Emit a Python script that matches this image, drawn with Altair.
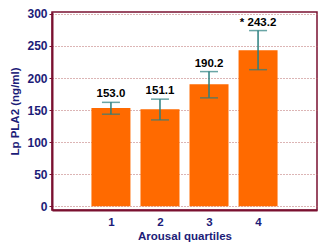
import altair as alt
import pandas as pd

quartiles = [1, 2, 3, 4]
means = [153.0, 151.1, 190.2, 243.2]
lower = [143.5, 134.6, 169.0, 213.0]
upper = [162.0, 167.0, 210.0, 274.0]
labels = ["153.0", "151.1", "190.2", "* 243.2"]
yticks = [0, 50, 100, 150, 200, 250, 300]

df = pd.DataFrame({"q": quartiles, "mean": means, "lo": lower, "hi": upper, "label": labels})

NAVY = "#1c1c78"
MAROON = "#7a1030"
TEAL = "#2a7f7f"
FONT = "Liberation Sans"

xscale = alt.Scale(domain=[-0.1, 5.1], nice=False, zero=False)
yscale = alt.Scale(domain=[-6, 303], nice=False, zero=False)

xaxis = alt.Axis(values=quartiles, title="Arousal quartiles", grid=False, ticks=False,
                 labelFont=FONT, labelFontSize=11.5, labelFontWeight="bold", labelColor=NAVY,
                 titleFont=FONT, titleFontSize=11.5, titleFontWeight="bold", titleColor=NAVY,
                 labelPadding=6, titlePadding=3, domainColor=MAROON, domainWidth=2,
                 format="d")
yaxis = alt.Axis(values=yticks, title="Lp PLA2 (ng/ml)",
                 grid=True, gridColor="#b86a6a", gridDash=[1, 2], gridWidth=1,
                 tickSize=3, tickColor=MAROON, labelOverlap=False,
                 labelFont=FONT, labelFontSize=12, labelFontWeight="bold", labelColor=NAVY,
                 titleFont=FONT, titleFontSize=11.5, titleFontWeight="bold", titleColor=NAVY,
                 labelPadding=2, titlePadding=6, domainColor=MAROON, domainWidth=2)

def X():
    return alt.X("q:Q", scale=xscale, axis=xaxis)

def Y(field):
    return alt.Y(field, type="quantitative", scale=yscale, axis=yaxis)

bars = alt.Chart(df).mark_bar(color="#ff6a00", size=39).encode(
    x=X(), y=Y("mean"), y2=alt.datum(0))

rules = alt.Chart(df).mark_rule(color=TEAL, strokeWidth=1.5).encode(
    x=X(), y=Y("lo"), y2="hi:Q")
cap_lo = alt.Chart(df).mark_tick(color=TEAL, orient="horizontal", size=18, thickness=1.5).encode(
    x=X(), y=Y("lo"))
cap_hi = alt.Chart(df).mark_tick(color=TEAL, orient="horizontal", size=18, thickness=1.5).encode(
    x=X(), y=Y("hi"))
text = alt.Chart(df).mark_text(font=FONT, fontSize=11.5, fontWeight="bold", color="black",
                               baseline="bottom", dy=-3).encode(
    x=X(), y=Y("hi"), text="label:N")

chart = alt.layer(bars, rules, cap_lo, cap_hi, text).properties(
    width=265, height=198,
    autosize=alt.AutoSizeParams(type="none"),
    padding={"left": 44, "top": 4, "right": 9, "bottom": 33},
    background="white",
).configure_view(stroke=MAROON, strokeWidth=1.5)

chart.save("out.html", embed_options={"renderer": "svg", "actions": False})
